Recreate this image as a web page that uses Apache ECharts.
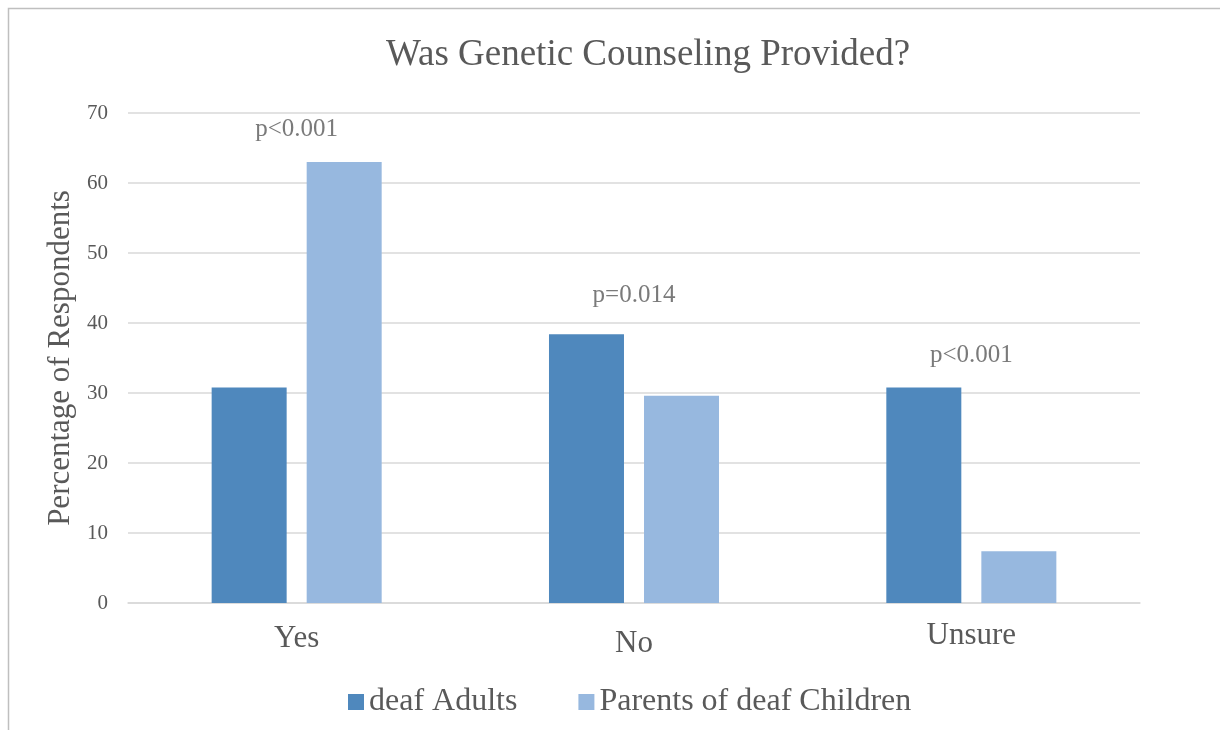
<!DOCTYPE html>
<html>
<head>
<meta charset="utf-8">
<script src="https://cdn.jsdelivr.net/npm/echarts@6/dist/echarts.min.js"></script>
<style>
  html, body { margin: 0; padding: 0; background: #fff; }
  #chart { width: 1220px; height: 730px; }
</style>
</head>
<body>
<div id="chart"></div>
<script>
// data
const categories = ["Yes", "No", "Unsure"];
const deafAdults = [30.8, 38.4, 30.8];
const parentsOfDeafChildren = [63.0, 29.6, 7.4];
const pLabels = ["p<0.001", "p=0.014", "p<0.001"];
const pLabelY = [67.6, 44.0, 35.4];

const font = "'Liberation Serif', 'Times New Roman', serif";
const textColor = "#595959";

let chart = echarts.init(document.getElementById("chart"));

// the category labels sit at slightly different heights in the original
const labelRich = {
  Yes: { padding: [20, 0, 0, 0] },
  No: { padding: [25, 0, 0, 0] },
  Unsure: { padding: [17, 0, 0, 0] },
};

let option = {
  animation: false,
  textStyle: { fontFamily: font },
  graphic: [
    {
      type: "rect",
      shape: { x: 8.5, y: 8.5, width: 1230, height: 740 },
      style: { fill: "none", stroke: "#BFBFBF", lineWidth: 1.5 },
      silent: true,
    },
  ],
  title: {
    text: "Was Genetic Counseling Provided?",
    left: 381,
    top: 32,
    textStyle: {
      fontFamily: font,
      fontSize: 37,
      fontWeight: "normal",
      color: textColor,
    },
  },
  legend: {
    bottom: 7,
    left: 343,
    itemWidth: 16,
    itemHeight: 16,
    itemGap: 61,
    icon: "rect",
    data: ["deaf Adults", "Parents of deaf Children"],
    textStyle: { fontFamily: font, fontSize: 32, color: textColor },
  },
  grid: {
    left: 128,
    right: 80,
    top: 113,
    bottom: 127,
  },
  xAxis: {
    type: "category",
    data: categories,
    axisTick: { show: false },
    axisLine: { lineStyle: { color: "#D9D9D9", width: 1.5 } },
    axisLabel: {
      fontFamily: font,
      fontSize: 31,
      color: textColor,
      margin: 0,
      formatter: (v) => "{" + v + "|" + v + "}",
      rich: labelRich,
    },
  },
  yAxis: {
    type: "value",
    min: 0,
    max: 70,
    interval: 10,
    name: "Percentage of Respondents",
    nameLocation: "middle",
    nameGap: 47,
    nameTextStyle: { fontFamily: font, fontSize: 31, color: textColor },
    axisLine: { show: false },
    axisTick: { show: false },
    axisLabel: { fontFamily: font, fontSize: 21, color: textColor, margin: 20 },
    splitLine: { lineStyle: { color: "#D9D9D9", width: 1.5 } },
  },
  series: [
    {
      name: "deaf Adults",
      type: "bar",
      data: deafAdults,
      barWidth: 75,
      barGap: "26.7%",
      itemStyle: { color: "#4F88BD" },
    },
    {
      name: "Parents of deaf Children",
      type: "bar",
      data: parentsOfDeafChildren,
      barWidth: 75,
      barGap: "26.7%",
      itemStyle: { color: "#97B8DF" },
    },
    {
      name: "p",
      type: "scatter",
      data: pLabelY.map((y, i) => ({ value: [i, y], label: { formatter: pLabels[i] } })),
      symbolSize: 0,
      silent: true,
      label: {
        show: true,
        position: "inside",
        fontFamily: font,
        fontSize: 25,
        color: textColor,
      },
    },
  ],
};

option && chart.setOption(option);
</script>
</body>
</html>
